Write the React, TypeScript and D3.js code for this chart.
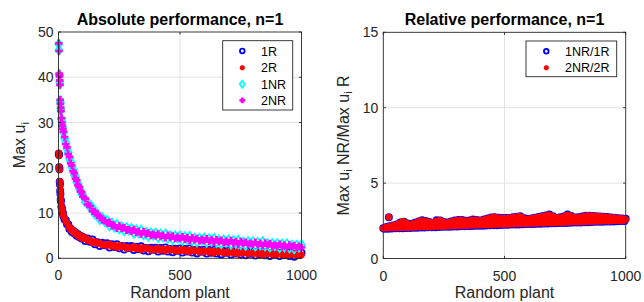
import React from "react";
import * as d3 from "d3";

// ---------- data ----------
// plant indices of the sampled points (left panel)
const ABS_PLANTS: number[] = [
  ...d3.range(1, 11), ...d3.range(12, 21, 2), ...d3.range(25, 101, 5), ...d3.range(110, 1001, 10),
];

const R1: number[] = [
  23.1, 22.8, 20.1, 19.7, 16.9, 16.3, 14.9, 14.2, 13.0, 12.6,
  11.4, 11.0, 10.2, 10.0, 9.3,
  8.6, 8.4, 7.5, 7.5, 6.5, 6.6, 5.8, 6.1, 5.5, 5.7, 5.0, 5.3, 4.7, 5.0, 4.4, 4.7,
  3.8, 4.4, 3.65, 4.15, 3.1, 3.53, 2.72, 3.41, 2.9, 3.3,
  2.38, 3.11, 2.49, 3.12, 2.2, 2.7, 1.95, 2.7, 2.25, 2.7,
  1.81, 2.57, 1.98, 2.64, 1.75, 2.27, 1.54, 2.31, 1.88, 2.35,
  1.48, 2.26, 1.69, 2.37, 1.5, 2.03, 1.31, 2.09, 1.67, 2.15,
  1.28, 2.05, 1.48, 2.15, 1.28, 1.81, 1.08, 1.86, 1.43, 1.91,
  1.04, 1.82, 1.24, 1.92, 1.05, 1.58, 0.86, 1.64, 1.22, 1.7,
  0.83, 1.61, 1.04, 1.72, 0.85, 1.38, 0.66, 1.44, 1.02, 1.5,
  0.63, 1.42, 0.85, 1.53, 0.67, 1.21, 0.49, 1.28, 0.86, 1.35,
  0.49, 1.27, 0.71, 1.39, 0.53, 1.07, 0.35, 1.14, 0.72, 1.21,
];

const R2: number[] = [
  23.3, 22.6, 20.2, 19.5, 17.0, 16.1, 15.1, 14.1, 13.2, 12.5,
  11.6, 10.8, 10.3, 9.9, 9.4,
  8.95, 8.05, 7.9, 7.0, 7.0, 6.3, 6.4, 5.75, 5.9, 5.3, 5.5, 4.9, 5.15, 4.6, 4.85, 4.3,
  4.6, 3.9, 4.05, 3.4, 3.75, 3.28, 3.47, 2.91, 3.1, 2.8,
  3.18, 2.61, 2.89, 2.37, 2.85, 2.45, 2.7, 2.2, 2.45, 2.2,
  2.61, 2.07, 2.38, 1.89, 2.4, 2.02, 2.29, 1.81, 2.08, 1.85,
  2.28, 1.76, 2.09, 1.62, 2.15, 1.78, 2.06, 1.59, 1.87, 1.65,
  2.08, 1.55, 1.88, 1.4, 1.93, 1.56, 1.83, 1.36, 1.63, 1.41,
  1.84, 1.32, 1.64, 1.17, 1.7, 1.33, 1.61, 1.14, 1.42, 1.2,
  1.63, 1.11, 1.44, 0.97, 1.5, 1.13, 1.41, 0.94, 1.22, 1.0,
  1.43, 0.92, 1.25, 0.78, 1.32, 0.96, 1.24, 0.78, 1.06, 0.85,
  1.29, 0.77, 1.11, 0.64, 1.18, 0.82, 1.1, 0.64, 0.92, 0.71,
];

const NR1: number[] = [
  47.3, 46.0, 40.6, 40.4, 39.0, 38.5, 34.8, 34.3, 33.1, 32.7,
  30.8, 30.2, 29.1, 28.8, 27.8,
  26.4, 25.6, 24.1, 23.4, 22.0, 21.4, 20.1, 19.6, 18.4, 18.0, 16.8, 16.5, 15.4, 15.2, 14.2, 14.0,
  12.45, 12.45, 11.2, 11.2, 9.75, 9.8, 8.6, 9.0, 8.2, 8.35,
  7.2, 7.75, 6.95, 7.45, 6.55, 6.95, 6.1, 6.75, 6.2, 6.55,
  5.58, 6.26, 5.6, 6.2, 5.25, 5.7, 4.9, 5.61, 5.13, 5.55,
  4.63, 5.36, 4.74, 5.37, 4.46, 4.95, 4.19, 4.93, 4.47, 4.92,
  4.02, 4.77, 4.17, 4.82, 3.92, 4.42, 3.67, 4.42, 3.98, 4.44,
  3.55, 4.31, 3.72, 4.38, 3.49, 4.0, 3.26, 4.02, 3.58, 4.04,
  3.15, 3.91, 3.32, 3.98, 3.09, 3.6, 2.86, 3.62, 3.18, 3.65,
  2.77, 3.54, 2.96, 3.63, 2.75, 3.25, 2.5, 3.25, 2.8, 3.26,
  2.37, 3.13, 2.54, 3.2, 2.32, 2.84, 2.11, 2.88, 2.46, 2.94,
];

const NR2: number[] = [
  47.5, 45.8, 40.8, 40.2, 39.3, 38.3, 35.0, 34.1, 33.3, 32.5,
  31.0, 30.0, 29.3, 28.6, 28.0,
  26.8, 25.2, 24.5, 23.0, 22.4, 21.0, 20.5, 19.2, 18.8, 17.6, 17.2, 16.1, 15.8, 14.8, 14.6, 13.6,
  13.2, 11.9, 11.55, 10.4, 10.35, 9.5, 9.3, 8.45, 8.35, 7.8,
  7.95, 7.2, 7.3, 6.65, 7.15, 6.65, 6.8, 6.2, 6.35, 6.0,
  6.33, 5.71, 5.95, 5.4, 5.85, 5.4, 5.6, 5.06, 5.28, 5.0,
  5.38, 4.81, 5.09, 4.57, 5.06, 4.65, 4.89, 4.38, 4.62, 4.37,
  4.77, 4.22, 4.52, 4.02, 4.52, 4.12, 4.37, 3.87, 4.13, 3.89,
  4.3, 3.76, 4.07, 3.58, 4.09, 3.7, 3.96, 3.47, 3.73, 3.49,
  3.9, 3.36, 3.67, 3.18, 3.69, 3.3, 3.56, 3.07, 3.33, 3.1,
  3.52, 2.99, 3.31, 2.83, 3.35, 2.95, 3.2, 2.7, 2.95, 2.71,
  3.12, 2.58, 2.89, 2.4, 2.92, 2.54, 2.81, 2.33, 2.61, 2.39,
];

// plant indices of the sampled points (right panel); last one is the outlier
const RATIO_PLANTS: number[] = [...d3.range(0, 1001, 5), 23];

const RATIO1: number[] = [
  2.01, 1.97, 2.07, 2.05, 1.98, 2.14, 2.09, 1.99, 2.19, 2.12,
  2.0, 2.25, 2.16, 2.0, 2.38, 2.24, 2.01, 2.43, 2.22, 2.02,
  2.32, 2.17, 2.03, 2.28, 2.18, 2.04, 2.37, 2.23, 2.04, 2.46,
  2.28, 2.05, 2.54, 2.3, 2.06, 2.48, 2.28, 2.07, 2.42, 2.25,
  2.07, 2.36, 2.26, 2.08, 2.53, 2.35, 2.09, 2.52, 2.31, 2.1,
  2.42, 2.26, 2.11, 2.38, 2.28, 2.11, 2.45, 2.32, 2.12, 2.52,
  2.35, 2.13, 2.56, 2.37, 2.14, 2.55, 2.35, 2.14, 2.5, 2.33,
  2.15, 2.52, 2.36, 2.16, 2.58, 2.38, 2.17, 2.55, 2.37, 2.18,
  2.52, 2.38, 2.18, 2.59, 2.41, 2.19, 2.65, 2.45, 2.2, 2.72,
  2.48, 2.21, 2.74, 2.48, 2.21, 2.7, 2.46, 2.22, 2.68, 2.47,
  2.23, 2.68, 2.48, 2.24, 2.69, 2.49, 2.25, 2.73, 2.51, 2.25,
  2.77, 2.54, 2.26, 2.81, 2.54, 2.27, 2.68, 2.47, 2.28, 2.62,
  2.47, 2.28, 2.66, 2.5, 2.29, 2.71, 2.52, 2.3, 2.75, 2.55,
  2.31, 2.8, 2.58, 2.32, 2.85, 2.61, 2.32, 2.91, 2.62, 2.33,
  2.8, 2.57, 2.34, 2.69, 2.54, 2.35, 2.73, 2.56, 2.35, 2.79,
  2.61, 2.36, 2.91, 2.64, 2.37, 2.82, 2.6, 2.38, 2.72, 2.55,
  2.39, 2.73, 2.58, 2.39, 2.78, 2.62, 2.4, 2.83, 2.65, 2.41,
  2.84, 2.64, 2.42, 2.82, 2.64, 2.43, 2.81, 2.63, 2.43, 2.79,
  2.63, 2.44, 2.77, 2.62, 2.45, 2.75, 2.61, 2.46, 2.72, 2.6,
  2.46, 2.7, 2.6, 2.47, 2.67, 2.59, 2.48, 2.65, 2.58, 2.49,
  2.63, 2.74,
];

const RATIO2: number[] = [
  2.0, 2.05, 2.04, 2.01, 2.12, 2.08, 2.02, 2.18, 2.11, 2.02,
  2.23, 2.14, 2.03, 2.34, 2.21, 2.04, 2.47, 2.24, 2.05, 2.36,
  2.19, 2.05, 2.25, 2.17, 2.06, 2.34, 2.22, 2.07, 2.43, 2.27,
  2.08, 2.51, 2.31, 2.09, 2.5, 2.29, 2.09, 2.44, 2.26, 2.1,
  2.38, 2.23, 2.11, 2.47, 2.32, 2.12, 2.55, 2.32, 2.12, 2.45,
  2.28, 2.13, 2.36, 2.26, 2.14, 2.43, 2.3, 2.15, 2.5, 2.34,
  2.16, 2.55, 2.36, 2.16, 2.56, 2.36, 2.17, 2.51, 2.34, 2.18,
  2.5, 2.35, 2.19, 2.56, 2.39, 2.2, 2.56, 2.37, 2.2, 2.53,
  2.36, 2.21, 2.56, 2.4, 2.22, 2.63, 2.44, 2.23, 2.7, 2.47,
  2.23, 2.76, 2.49, 2.24, 2.71, 2.47, 2.25, 2.68, 2.47, 2.26,
  2.68, 2.47, 2.27, 2.69, 2.48, 2.27, 2.72, 2.5, 2.28, 2.76,
  2.53, 2.29, 2.8, 2.55, 2.3, 2.73, 2.49, 2.3, 2.6, 2.46,
  2.31, 2.65, 2.49, 2.32, 2.69, 2.52, 2.33, 2.74, 2.54, 2.34,
  2.78, 2.57, 2.34, 2.83, 2.6, 2.35, 2.89, 2.64, 2.36, 2.84,
  2.58, 2.37, 2.73, 2.53, 2.37, 2.71, 2.56, 2.38, 2.75, 2.59,
  2.39, 2.87, 2.66, 2.4, 2.85, 2.61, 2.41, 2.75, 2.57, 2.41,
  2.71, 2.58, 2.42, 2.76, 2.61, 2.43, 2.81, 2.63, 2.44, 2.85,
  2.64, 2.44, 2.83, 2.64, 2.45, 2.81, 2.64, 2.46, 2.8, 2.63,
  2.47, 2.78, 2.62, 2.48, 2.76, 2.62, 2.48, 2.73, 2.6, 2.49,
  2.71, 2.6, 2.5, 2.68, 2.59, 2.51, 2.66, 2.58, 2.51, 2.64,
  2.58, 2.74,
];

const X_TICKS = [0, 500, 1000];
const Y_TICKS_ABS = [0, 10, 20, 30, 40, 50];
const Y_TICKS_REL = [0, 5, 10, 15];
const ABS_LEGEND = ["1R", "2R", "1NR", "2NR"];
const REL_LEGEND = ["1NR/1R", "2NR/2R"];

// ---------- styling ----------
const FONT = "'Liberation Sans', Arial, Helvetica, sans-serif";
const AX = "#262626";
const GRID = "#e3e3e3";
const BLUE = "#0000ff";
const RED = "#ff0000";
const CYAN = "#00ffff";
const MAGENTA = "#ff00ff";

type MarkerKind = "circle" | "star" | "diamond" | "plus";

function Marker({ kind, x, y, color, k = 1 }: { kind: MarkerKind; x: number; y: number; color: string; k?: number }) {
  if (kind === "circle")
    return <circle cx={x} cy={y} r={3.1 * k} fill="none" stroke={color} strokeWidth={1.8} />;
  if (kind === "diamond")
    return (
      <path
        d={`M${x},${y - 4.6 * k}L${x + 3.4 * k},${y}L${x},${y + 4.6 * k}L${x - 3.4 * k},${y}Z`}
        fill="none"
        stroke={color}
        strokeWidth={1.8}
      />
    );
  if (kind === "plus") {
    const s = 3.8 * k;
    return (
      <path d={`M${x - s},${y}H${x + s}M${x},${y - s}V${y + s}`} stroke={color} strokeWidth={2.7} fill="none" />
    );
  }
  const s = 3.3 * k;
  const d = s * 0.72;
  return (
    <path
      d={`M${x - s},${y}H${x + s}M${x},${y - s}V${y + s}M${x - d},${y - d}L${x + d},${y + d}M${x - d},${y + d}L${x + d},${y - d}`}
      stroke={color}
      strokeWidth={2.2}
      fill="none"
    />
  );
}

type Series = { plants: number[]; values: number[]; kind: MarkerKind; color: string; name: string };

function Panel({
  x0, x1, y0, y1, yMax, yTicks, title, ylabel, ylabelX, series, legend,
}: {
  x0: number; x1: number; y0: number; y1: number; yMax: number; yTicks: number[];
  title: string; ylabel: React.ReactNode; ylabelX: number; series: Series[];
  legend: { x: number; y: number; w: number; h: number; rows: number[]; mx: number; tx: number };
}) {
  const x = d3.scaleLinear().domain([0, 1000]).range([x0, x1]);
  const y = d3.scaleLinear().domain([0, yMax]).range([y0, y1]);
  const tl = 2.6;
  const cx = (x0 + x1) / 2;
  const cy = (y0 + y1) / 2;
  return (
    <g>
      <rect x={x0} y={y1} width={x1 - x0} height={y0 - y1} fill="#fff" />
      {/* grid */}
      {X_TICKS.filter((t) => t > 0 && t < 1000).map((t) => (
        <line key={"gx" + t} x1={x(t)} x2={x(t)} y1={y0} y2={y1} stroke={GRID} strokeWidth={1} />
      ))}
      {yTicks.filter((t) => t > 0 && t < yMax).map((t) => (
        <line key={"gy" + t} x1={x0} x2={x1} y1={y(t)} y2={y(t)} stroke={GRID} strokeWidth={1} />
      ))}
      {/* data */}
      {series.map((s) =>
        s.values.map((v, i) => (
          <Marker key={s.name + i} kind={s.kind} x={x(s.plants[i])} y={y(v)} color={s.color} />
        ))
      )}
      {/* box */}
      <rect x={x0} y={y1} width={x1 - x0} height={y0 - y1} fill="none" stroke={AX} strokeWidth={0.9} />
      {X_TICKS.map((t) => (
        <g key={"xt" + t}>
          <line x1={x(t)} x2={x(t)} y1={y0} y2={y0 - tl} stroke={AX} strokeWidth={0.9} />
          <line x1={x(t)} x2={x(t)} y1={y1} y2={y1 + tl} stroke={AX} strokeWidth={0.9} />
          <text x={x(t)} y={y0 + 22} textAnchor="middle" fontSize={14} fill={AX} fontFamily={FONT}>
            {t}
          </text>
        </g>
      ))}
      {yTicks.map((t) => (
        <g key={"yt" + t}>
          <line x1={x0} x2={x0 + tl} y1={y(t)} y2={y(t)} stroke={AX} strokeWidth={0.9} />
          <line x1={x1} x2={x1 - tl} y1={y(t)} y2={y(t)} stroke={AX} strokeWidth={0.9} />
          <text x={x0 - 5} y={y(t) + 5} textAnchor="end" fontSize={14} fill={AX} fontFamily={FONT}>
            {t}
          </text>
        </g>
      ))}
      <text x={cx} y={25} textAnchor="middle" fontSize={16} fontWeight="bold" fill="#000" fontFamily={FONT}>
        {title}
      </text>
      <text x={cx} y={298} textAnchor="middle" fontSize={16} fill={AX} fontFamily={FONT}>
        Random plant
      </text>
      <text
        transform={`translate(${ylabelX},${cy}) rotate(-90)`}
        textAnchor="middle"
        fontSize={16}
        fill={AX}
        fontFamily={FONT}
      >
        {ylabel}
      </text>
      {/* legend */}
      <rect x={legend.x} y={legend.y} width={legend.w} height={legend.h} fill="#fff" stroke={AX} strokeWidth={0.9} />
      {series.map((s, i) => (
        <g key={"lg" + s.name}>
          <Marker kind={s.kind} x={legend.mx} y={legend.rows[i]} color={s.color} k={0.75} />
          <text x={legend.tx} y={legend.rows[i] + 4.5} fontSize={12.5} fill="#000" fontFamily={FONT}>
            {s.name}
          </text>
        </g>
      ))}
    </g>
  );
}

export default function App() {
  const absSeries: Series[] = [
    { plants: ABS_PLANTS, values: R1, kind: "circle", color: BLUE, name: ABS_LEGEND[0] },
    { plants: ABS_PLANTS, values: R2, kind: "star", color: RED, name: ABS_LEGEND[1] },
    { plants: ABS_PLANTS, values: NR1, kind: "diamond", color: CYAN, name: ABS_LEGEND[2] },
    { plants: ABS_PLANTS, values: NR2, kind: "plus", color: MAGENTA, name: ABS_LEGEND[3] },
  ];
  const relSeries: Series[] = [
    { plants: RATIO_PLANTS, values: RATIO1, kind: "circle", color: BLUE, name: REL_LEGEND[0] },
    { plants: RATIO_PLANTS, values: RATIO2, kind: "star", color: RED, name: REL_LEGEND[1] },
  ];
  return (
    <svg
      width={644}
      height={302}
      viewBox="0 0 644 302"
      style={{ position: "absolute", left: 0, top: 0, background: "#fff" }}
    >
      <rect width={644} height={302} fill="#fff" />
      <Panel
        x0={58.5}
        x1={301.5}
        y0={258.3}
        y1={32}
        yMax={50}
        yTicks={Y_TICKS_ABS}
        title="Absolute performance, n=1"
        ylabelX={25}
        ylabel={
          <>
            Max u<tspan dy={3.5} fontSize={11}>i</tspan>
          </>
        }
        series={absSeries}
        legend={{ x: 222.7, y: 40.7, w: 70, h: 69.3, rows: [51, 67.7, 84.3, 100.3], mx: 242.3, tx: 261 }}
      />
      <Panel
        x0={383.3}
        x1={625.7}
        y0={258.5}
        y1={32.3}
        yMax={15}
        yTicks={Y_TICKS_REL}
        title="Relative performance, n=1"
        ylabelX={348.5}
        ylabel={
          <>
            Max u<tspan dy={3.5} fontSize={11}>i</tspan>
            <tspan dy={-3.5}> NR/Max u</tspan>
            <tspan dy={3.5} fontSize={11}>i</tspan>
            <tspan dy={-3.5}> R</tspan>
          </>
        }
        series={relSeries}
        legend={{ x: 526, y: 41, w: 90.7, h: 35.7, rows: [51.3, 67.7], mx: 546.3, tx: 565 }}
      />
    </svg>
  );
}
